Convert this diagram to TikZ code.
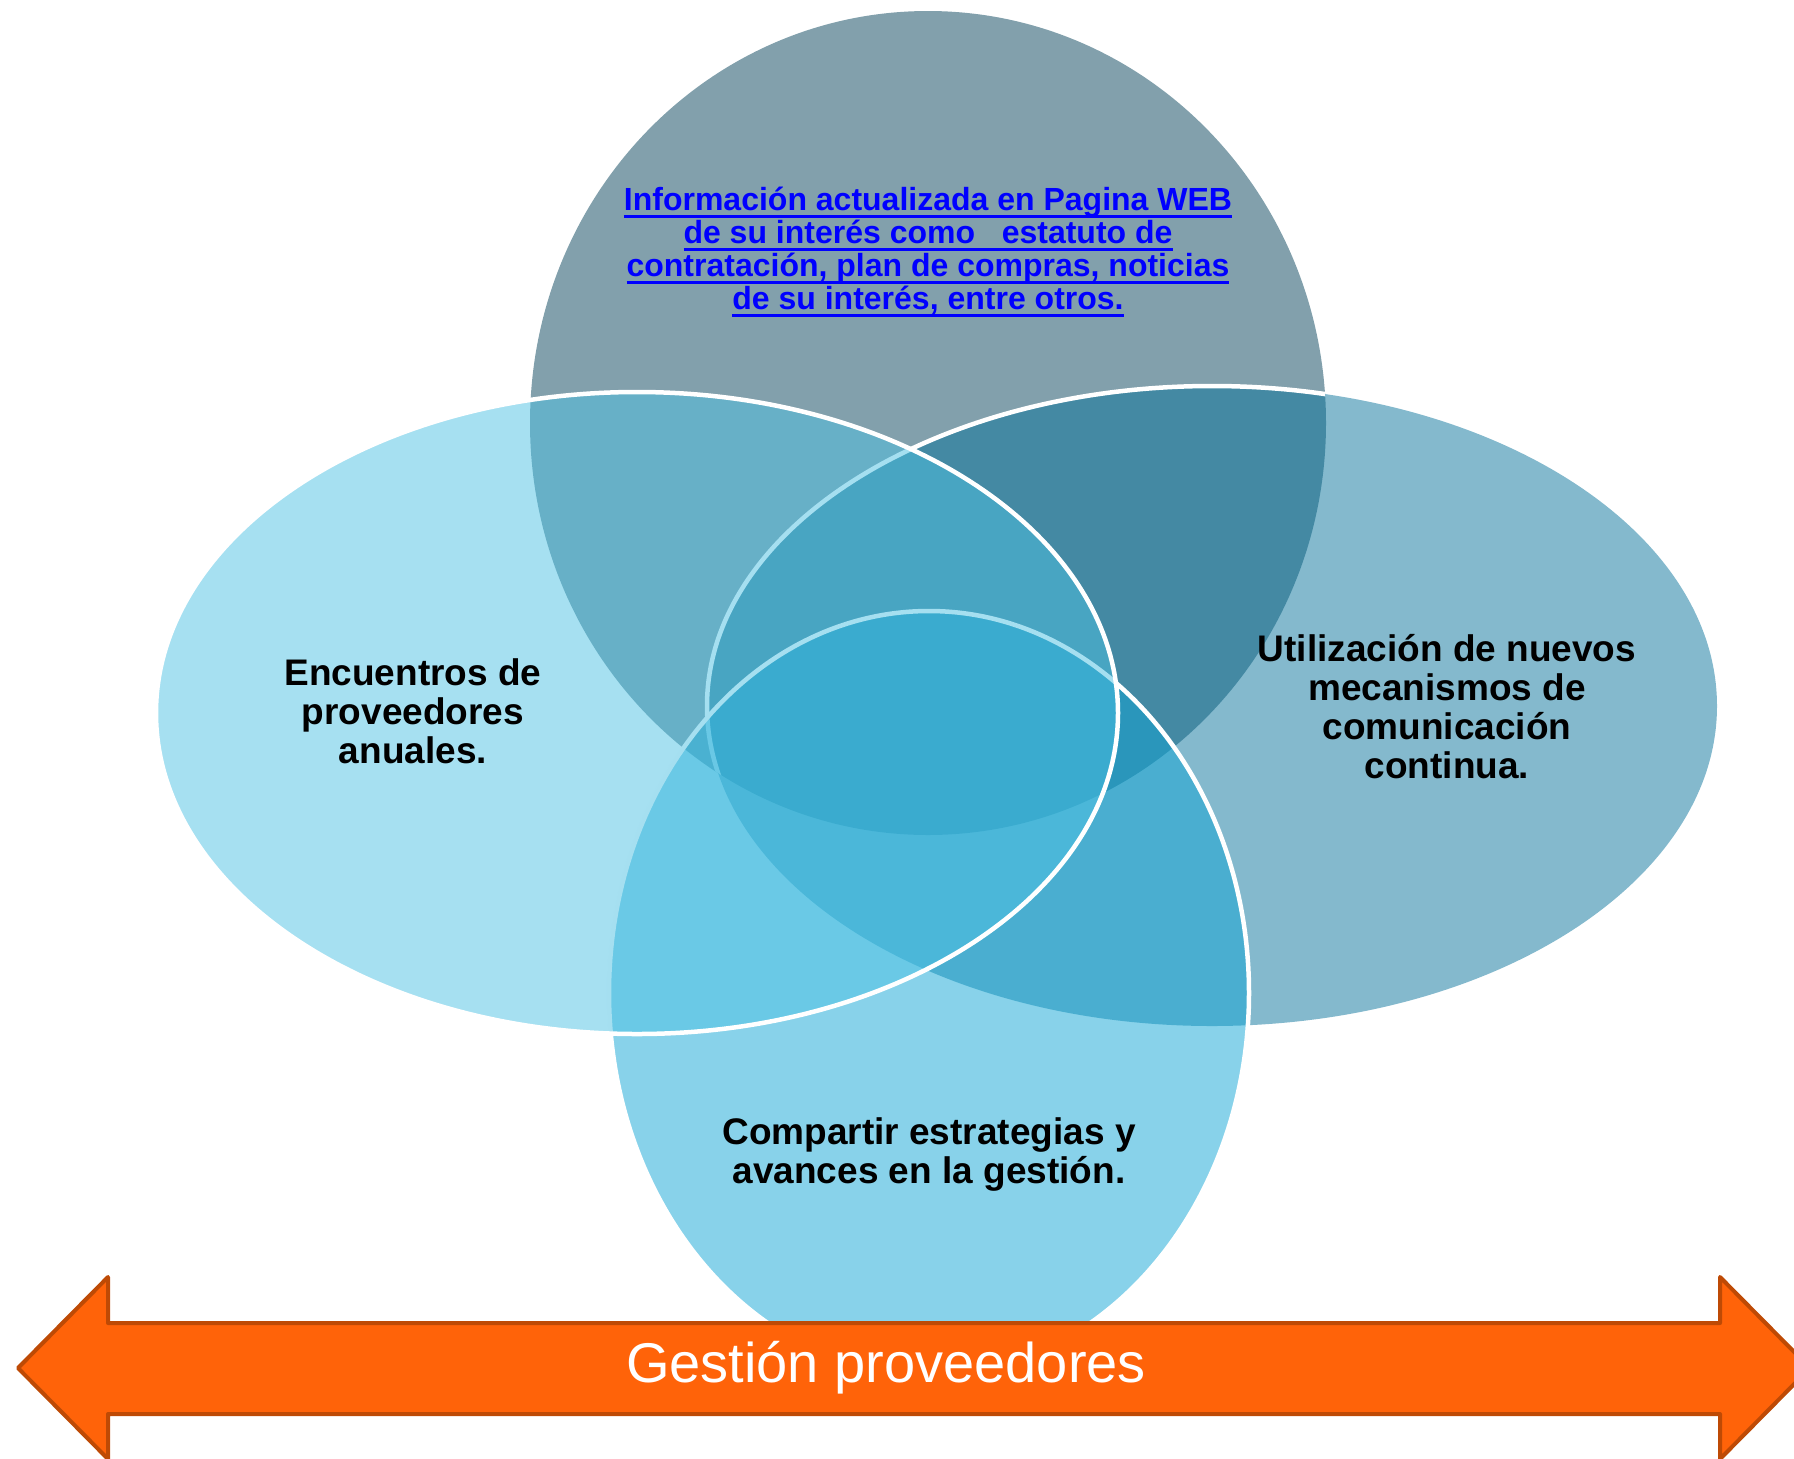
\documentclass[tikz,border=0pt]{standalone}
\usepackage{fontspec}
\setmainfont{Liberation Sans}
\usepackage{xcolor}
\usepackage{tikz}

\definecolor{setTop}{RGB}{5,65,89}
\definecolor{setRight}{RGB}{9,115,155}
\definecolor{setBottom}{RGB}{17,165,213}
\definecolor{setLeft}{RGB}{77,193,227}
\definecolor{bandFill}{RGB}{255,99,9}
\definecolor{bandLine}{RGB}{190,74,5}
\definecolor{linkBlue}{RGB}{0,0,255}

% underlined link text, the rule runs through the descenders
\newcommand{\linkline}[1]{\setbox0\hbox{#1}\rlap{\rule[-3.8pt]{\wd0}{1.6pt}}\box0}

\tikzset{
  vennset/.style={fill opacity=0.5, draw opacity=1},
  rim/.style={draw=white, line width=2.25pt},
  itemtext/.style={align=center, inner sep=0pt, text=black,
                   font=\fontsize{18.5}{19.5}\selectfont\bfseries},
  linktext/.style={align=center, inner sep=0pt, text=linkBlue,
                   font=\fontsize{16}{16.6}\selectfont\bfseries},
  band/.style={fill=bandFill, draw=bandLine, line width=2pt, line join=round},
  bandtext/.style={text=white, inner sep=0pt, font=\fontsize{28}{34}\selectfont},
}

\begin{document}
\begin{tikzpicture}[x=0.5pt, y=-0.5pt]
  \useasboundingbox (0,0) rectangle (1794,1458);
  \clip (0,0) rectangle (1794,1458);

  % the four sets, back to front
  \fill[vennset, fill=setTop] (928,423) ellipse [x radius=199pt, y radius=206pt];
  \fill[vennset, fill=setRight] (1212,706) ellipse [x radius=252.5pt, y radius=160pt];
  \begin{scope}
    \clip (928,423) ellipse [x radius=199pt, y radius=206pt];
    \draw[rim] (1212,706) ellipse [x radius=252.5pt, y radius=160pt];
  \end{scope}
  \filldraw[vennset, rim, fill=setBottom] (929,993) ellipse [x radius=160pt, y radius=191pt];
  \filldraw[vennset, rim, fill=setLeft] (637,713) ellipse [x radius=240.5pt, y radius=160.5pt];

  % labels
  \node[linktext] (tweb) at (928,252)
    {\linkline{Información actualizada en Pagina WEB}\\
     \linkline{de su interés como\ \ \ estatuto de}\\
     \linkline{contratación, plan de compras, noticias}\\
     \linkline{de su interés, entre otros.}};
  \node[itemtext] (tencuentros) at (413,711)
    {Encuentros de\\ proveedores\\ anuales.};
  \node[itemtext] (tmecanismos) at (1447,707)
    {Utilización de nuevos\\ mecanismos de\\ comunicación\\ continua.};
  \node[itemtext] (testrategias) at (929,1154)
    {Compartir estrategias y\\ avances en la gestión.};

  % double arrow band along the bottom
  \draw[band] (18,1368) -- (108,1277) -- (108,1323) -- (1720,1323) -- (1720,1277)
    -- (1810,1368) -- (1720,1459) -- (1720,1414) -- (108,1414) -- (108,1459) -- cycle;
  \node[bandtext, anchor=base] (tgestion) at (886,1382) {Gestión proveedores};
\end{tikzpicture}
\end{document}
